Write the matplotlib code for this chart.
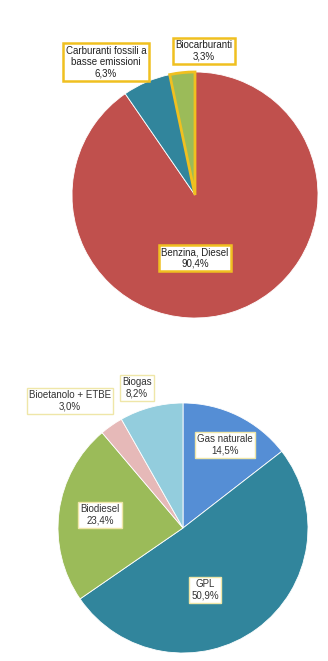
import matplotlib.pyplot as plt

plt.rcParams['font.family'] = ['Liberation Sans', 'DejaVu Sans']

# top chart: fuel mix
top_labels = ['Benzina, Diesel', 'Carburanti fossili a\nbasse emissioni', 'Biocarburanti']
top_values = [90.4, 6.3, 3.3]
top_colors = ['#c0504d', '#31859c', '#9bbb59']

# bottom chart: low-emission fuels
bot_labels = ['Gas naturale', 'GPL', 'Biodiesel', 'Bioetanolo + ETBE', 'Biogas']
bot_values = [14.5, 50.9, 23.4, 3.0, 8.2]
bot_colors = ['#558ed5', '#31859c', '#9bbb59', '#e6b9b8', '#93cddd']

W, H = 328, 661
fig = plt.figure(figsize=(W / 100, H / 100), dpi=100)
ax = fig.add_axes([0, 0, 1, 1])

def pct(v):
    return f'{v:.1f}%'.replace('.', ',')

# top pie
wedges, _ = ax.pie(top_values, colors=top_colors, startangle=90, counterclock=False,
                   center=(195, H - 195), radius=123,
                   wedgeprops=dict(linewidth=0.6, edgecolor='white'))
wedges[2].set_edgecolor('#f0c020')
wedges[2].set_linewidth(2)
wedges[2].set_zorder(3)

# bottom pie
ax.pie(bot_values, colors=bot_colors, startangle=90, counterclock=False,
       center=(183, H - 528), radius=125,
       wedgeprops=dict(linewidth=0.6, edgecolor='white'))

ax.set_xlim(0, W)
ax.set_ylim(0, H)
ax.set_aspect('equal')
ax.axis('off')

top_pos = [(195, 258), (106, 62), (204, 51)]
strong = dict(boxstyle='square,pad=0.25', fc='white', ec='#f0c020', lw=1.8)
for lab, v, (x, y) in zip(top_labels, top_values, top_pos):
    ax.text(x, H - y, f'{lab}\n{pct(v)}', ha='center', va='center', fontsize=7,
            color='#222222', bbox=strong, linespacing=1.15, zorder=5)

bot_pos = [(225, 445), (205, 590), (100, 515), (70, 401), (137, 388)]
light = dict(boxstyle='square,pad=0.25', fc='white', ec='#efe6a8', lw=1.0)
for lab, v, (x, y) in zip(bot_labels, bot_values, bot_pos):
    ax.text(x, H - y, f'{lab}\n{pct(v)}', ha='center', va='center', fontsize=7,
            color='#333333', bbox=light, linespacing=1.15, zorder=5)

fig.savefig('out.png', dpi=100)
